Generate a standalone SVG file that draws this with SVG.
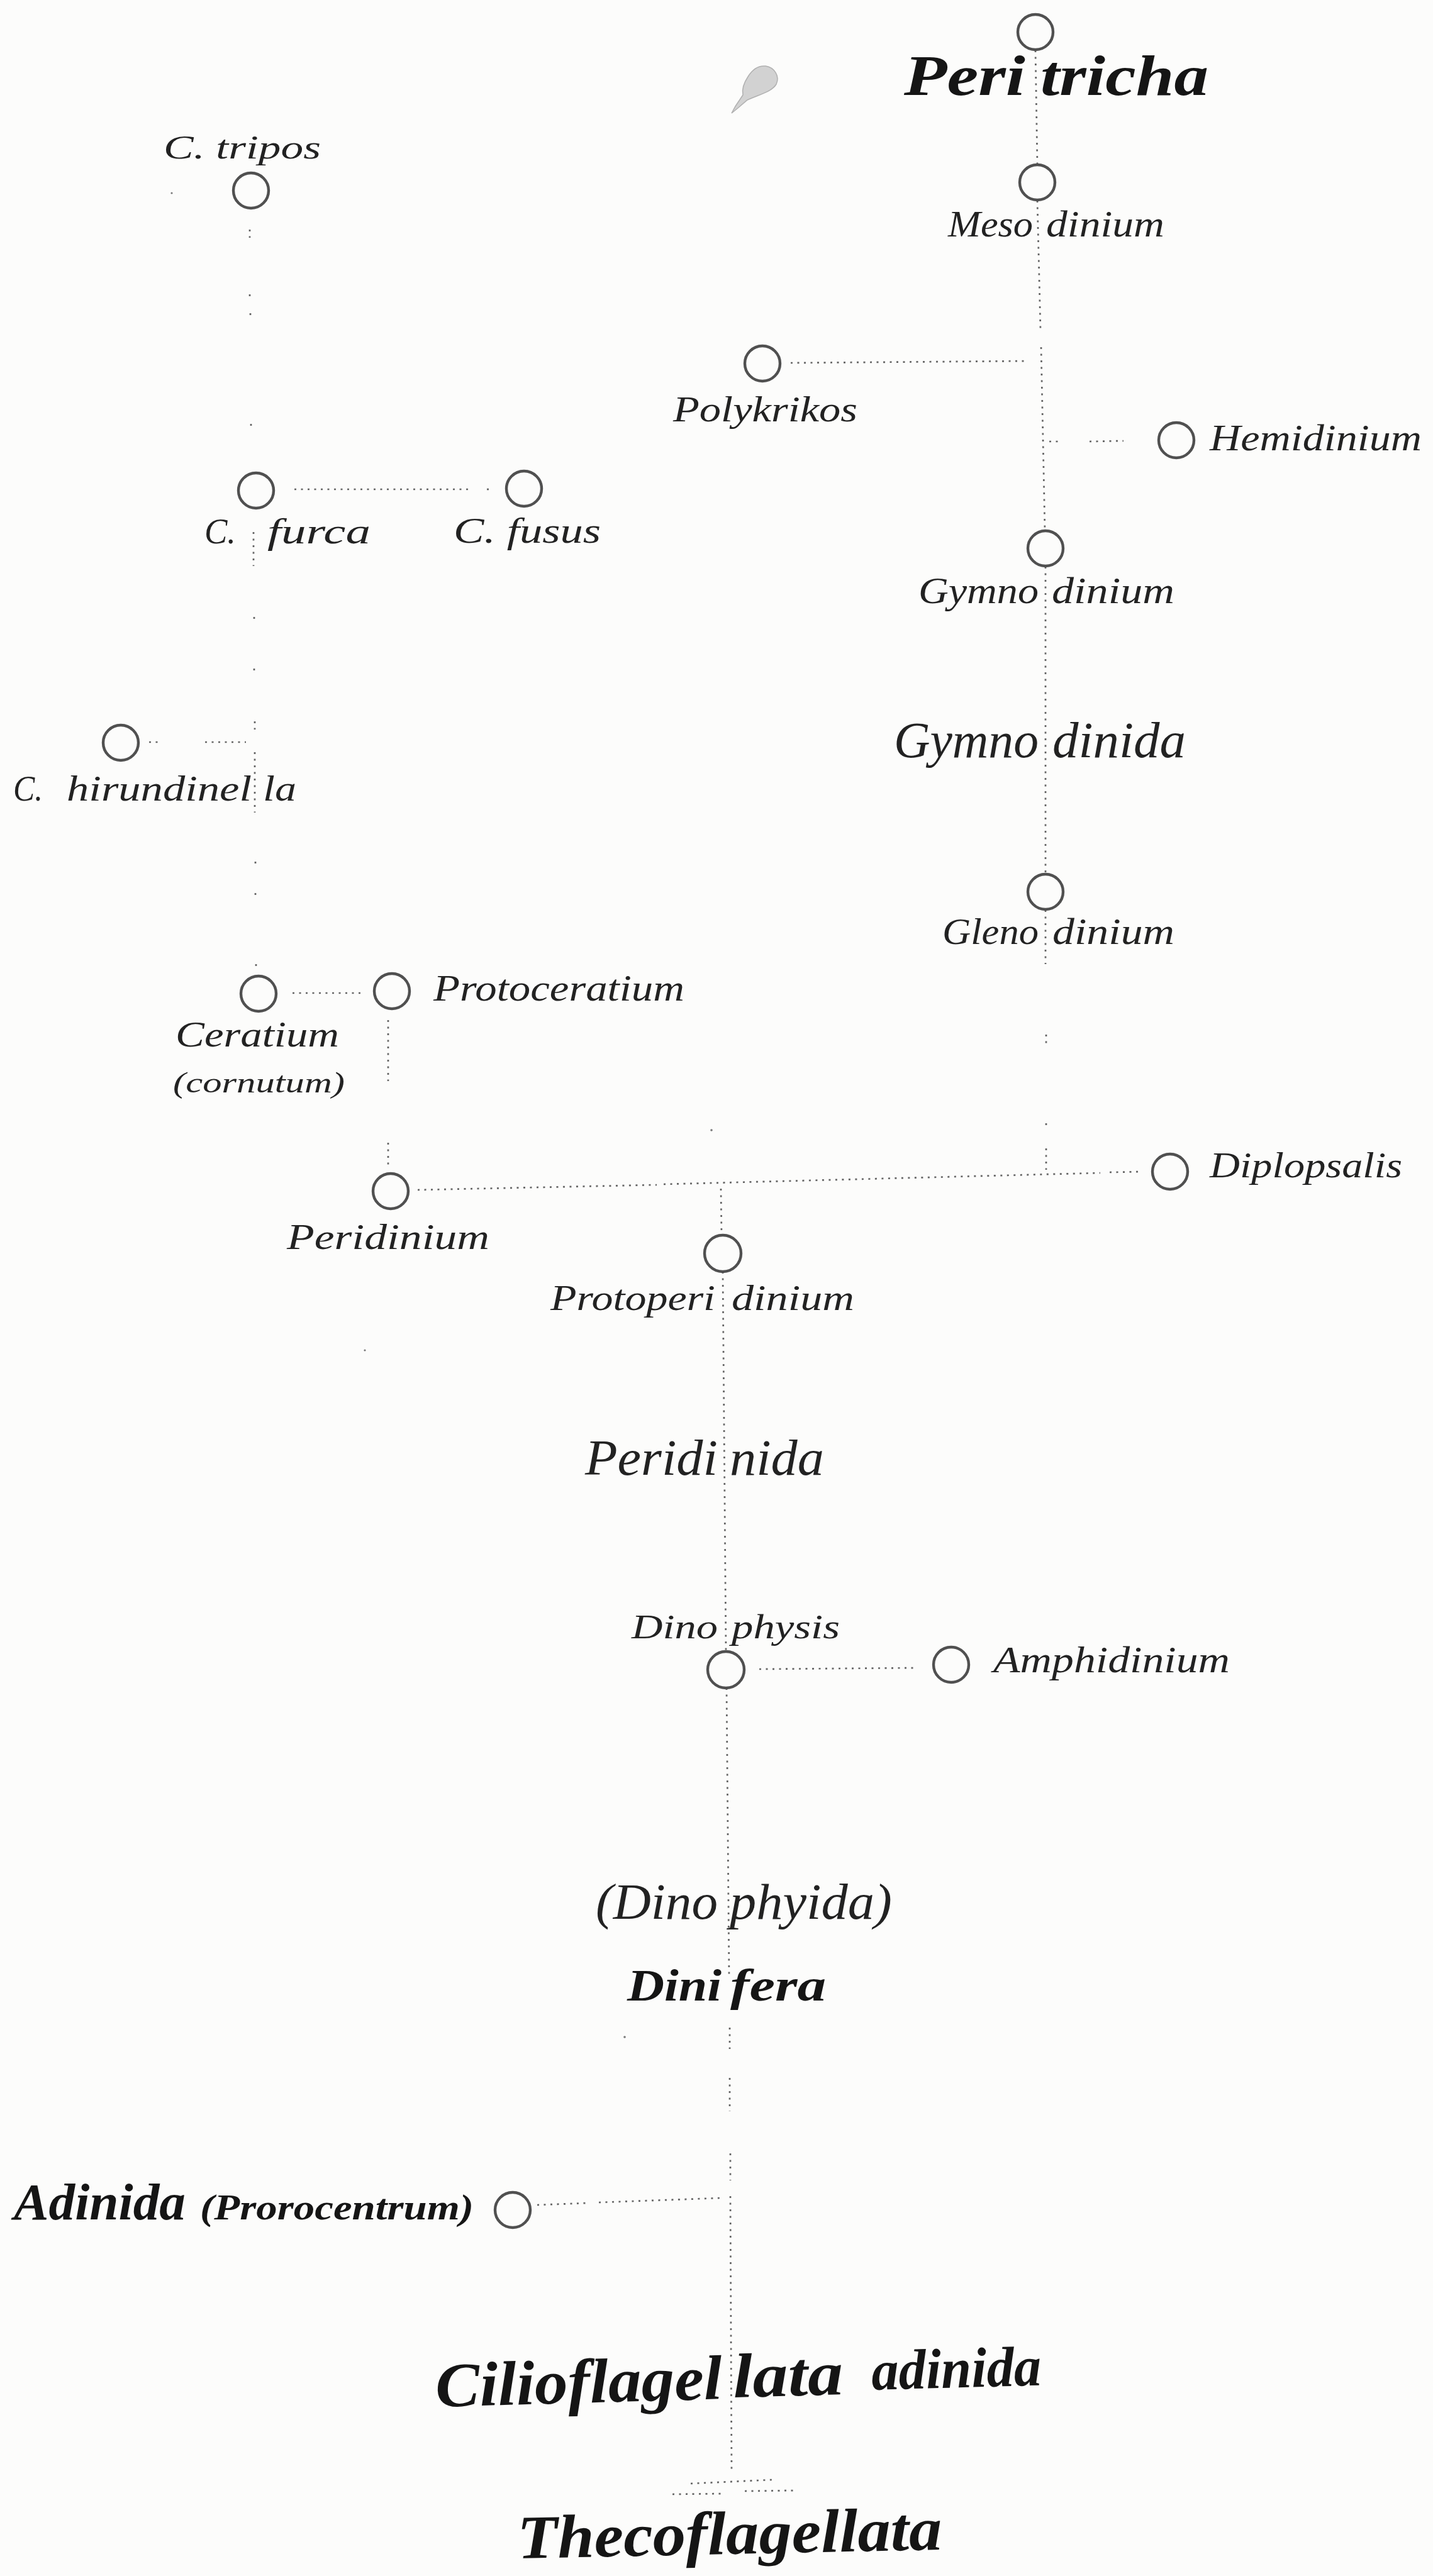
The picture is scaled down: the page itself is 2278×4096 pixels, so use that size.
<svg xmlns="http://www.w3.org/2000/svg" width="2278" height="4096" viewBox="0 0 2278 4096">
<style>
.bg{fill:#fcfcfb}
.node circle{fill:none;stroke:#505050;stroke-width:4.4}
.conn line{stroke:#666;stroke-width:2.7;stroke-dasharray:3 7.5;fill:none}
text{font-family:"Liberation Serif","Times New Roman",serif;font-style:italic;fill:#222}
.b{font-weight:bold;fill:#151515}
.speck{fill:#777}
</style>
<rect class="bg" x="0" y="0" width="2278" height="4096"/>

<g id="connectors" class="conn">
  <line x1="1646" y1="80" x2="1649" y2="262"/>
  <line x1="1649" y1="319" x2="1654" y2="524"/>
  <line x1="1655" y1="552" x2="1661" y2="844"/>
  <line x1="1257" y1="577" x2="1634" y2="574"/>
  <line x1="1668" y1="702" x2="1688" y2="702"/>
  <line x1="1732" y1="702" x2="1786" y2="701"/>
  <line x1="1662" y1="901" x2="1662" y2="1390"/>
  <line x1="1662" y1="1447" x2="1662" y2="1533"/>
  <line x1="1663" y1="1645" x2="1663" y2="1660"/>
  <line x1="1663" y1="1786" x2="1663" y2="1791"/>
  <line x1="1663" y1="1826" x2="1663" y2="1860"/>
  <line x1="664" y1="1892" x2="1044" y2="1884"/>
  <line x1="1055" y1="1883" x2="1749" y2="1865"/>
  <line x1="1764" y1="1864" x2="1816" y2="1863"/>
  <line x1="1146" y1="1890" x2="1147" y2="1962"/>
  <line x1="1149" y1="2022" x2="1154" y2="2626"/>
  <line x1="1207" y1="2654" x2="1459" y2="2652"/>
  <line x1="1155" y1="2684" x2="1159" y2="3140"/>
  <line x1="1160" y1="3224" x2="1160" y2="3258"/>
  <line x1="1160" y1="3304" x2="1160" y2="3357"/>
  <line x1="1161" y1="3424" x2="1161" y2="3467"/>
  <line x1="1161" y1="3492" x2="1163" y2="3930"/>
  <line x1="854" y1="3506" x2="933" y2="3503"/>
  <line x1="952" y1="3502" x2="1144" y2="3495"/>
  <line x1="1098" y1="3949" x2="1227" y2="3943"/>
  <line x1="1069" y1="3966" x2="1151" y2="3965"/>
  <line x1="1184" y1="3961" x2="1264" y2="3960"/>
  <line x1="397" y1="365" x2="397" y2="378"/>
  <line x1="397" y1="468" x2="397" y2="471"/>
  <line x1="398" y1="498" x2="398" y2="501"/>
  <line x1="399" y1="674" x2="399" y2="677"/>
  <line x1="468" y1="778" x2="750" y2="778"/>
  <line x1="774" y1="778" x2="777" y2="778"/>
  <line x1="403" y1="846" x2="403" y2="900"/>
  <line x1="404" y1="981" x2="404" y2="984"/>
  <line x1="404" y1="1063" x2="404" y2="1066"/>
  <line x1="405" y1="1147" x2="405" y2="1160"/>
  <line x1="405" y1="1196" x2="405" y2="1292"/>
  <line x1="406" y1="1370" x2="406" y2="1373"/>
  <line x1="406" y1="1420" x2="406" y2="1423"/>
  <line x1="407" y1="1533" x2="407" y2="1536"/>
  <line x1="237" y1="1180" x2="254" y2="1180"/>
  <line x1="326" y1="1180" x2="391" y2="1180"/>
  <line x1="465" y1="1579" x2="578" y2="1579"/>
  <line x1="617" y1="1622" x2="617" y2="1719"/>
  <line x1="617" y1="1817" x2="617" y2="1853"/>
</g>

<g id="n-peritricha" class="node">
  <circle cx="1646" cy="51" r="28"/>
  <text class="b" x="1437" y="151" font-size="90" textLength="193" lengthAdjust="spacingAndGlyphs">Peri</text>
  <text class="b" x="1654" y="151" font-size="90" textLength="267" lengthAdjust="spacingAndGlyphs">tricha</text>
</g>
<g id="n-mesodinium" class="node">
  <circle cx="1649" cy="290" r="28"/>
  <text x="1507" y="376" font-size="60" textLength="135" lengthAdjust="spacingAndGlyphs">Meso</text>
  <text x="1663" y="376" font-size="60" textLength="188" lengthAdjust="spacingAndGlyphs">dinium</text>
</g>
<g id="n-polykrikos" class="node">
  <circle cx="1212" cy="578" r="28"/>
  <text x="1070" y="670" font-size="56" textLength="293" lengthAdjust="spacingAndGlyphs">Polykrikos</text>
</g>
<g id="n-hemidinium" class="node">
  <circle cx="1870" cy="700" r="28"/>
  <text x="1923" y="716" font-size="60" textLength="337" lengthAdjust="spacingAndGlyphs">Hemidinium</text>
</g>
<g id="n-gymnodinium" class="node">
  <circle cx="1662" cy="872" r="28"/>
  <text x="1460" y="959" font-size="60" textLength="191" lengthAdjust="spacingAndGlyphs">Gymno</text>
  <text x="1672" y="959" font-size="60" textLength="195" lengthAdjust="spacingAndGlyphs">dinium</text>
</g>
<g id="g-gymnodinida">
  <text x="1421" y="1204" font-size="80" textLength="230" lengthAdjust="spacingAndGlyphs">Gymno</text>
  <text x="1673" y="1204" font-size="80" textLength="212" lengthAdjust="spacingAndGlyphs">dinida</text>
</g>
<g id="n-glenodinium" class="node">
  <circle cx="1662" cy="1418" r="28"/>
  <text x="1498" y="1501" font-size="60" textLength="153" lengthAdjust="spacingAndGlyphs">Gleno</text>
  <text x="1673" y="1501" font-size="60" textLength="194" lengthAdjust="spacingAndGlyphs">dinium</text>
</g>
<g id="n-diplopsalis" class="node">
  <circle cx="1860" cy="1863" r="28"/>
  <text x="1923" y="1872" font-size="57" textLength="306" lengthAdjust="spacingAndGlyphs">Diplopsalis</text>
</g>
<g id="n-protoperidinium" class="node">
  <circle cx="1149" cy="1993" r="29"/>
  <text x="875" y="2083" font-size="58" textLength="262" lengthAdjust="spacingAndGlyphs">Protoperi</text>
  <text x="1163" y="2083" font-size="58" textLength="195" lengthAdjust="spacingAndGlyphs">dinium</text>
</g>
<g id="g-peridinida">
  <text x="930" y="2345" font-size="80" textLength="211" lengthAdjust="spacingAndGlyphs">Peridi</text>
  <text x="1160" y="2345" font-size="80" textLength="150" lengthAdjust="spacingAndGlyphs">nida</text>
</g>
<g id="n-dinophysis" class="node">
  <circle cx="1154" cy="2655" r="29"/>
  <text x="1004" y="2605" font-size="54" textLength="137" lengthAdjust="spacingAndGlyphs">Dino</text>
  <text x="1163" y="2605" font-size="54" textLength="172" lengthAdjust="spacingAndGlyphs">physis</text>
</g>
<g id="n-amphidinium" class="node">
  <circle cx="1512" cy="2647" r="28"/>
  <text x="1579" y="2659" font-size="60" textLength="376" lengthAdjust="spacingAndGlyphs">Amphidinium</text>
</g>
<g id="g-dinophyida">
  <text x="947" y="3051" font-size="80" textLength="194" lengthAdjust="spacingAndGlyphs">(Dino</text>
  <text x="1160" y="3051" font-size="80" textLength="258" lengthAdjust="spacingAndGlyphs">phyida)</text>
</g>
<g id="g-dinifera">
  <text class="b" x="997" y="3181" font-size="72" textLength="150" lengthAdjust="spacingAndGlyphs">Dini</text>
  <text class="b" x="1161" y="3181" font-size="72" textLength="152" lengthAdjust="spacingAndGlyphs">fera</text>
</g>
<g id="n-adinida" class="node">
  <circle cx="815" cy="3514" r="28"/>
  <text class="b" x="22" y="3529" font-size="83" textLength="273" lengthAdjust="spacingAndGlyphs">Adinida</text>
  <text class="b" x="318" y="3529" font-size="58" textLength="435" lengthAdjust="spacingAndGlyphs">(Prorocentrum)</text>
</g>
<g id="g-cilioflagellata">
  <text class="b" x="693" y="3827" font-size="100" textLength="456" lengthAdjust="spacingAndGlyphs" transform="rotate(-1.6 693 3827)">Cilioflagel</text>
  <text class="b" x="1166" y="3812" font-size="100" textLength="175" lengthAdjust="spacingAndGlyphs" transform="rotate(-1.6 1166 3812)">lata</text>
  <text class="b" x="1386" y="3800" font-size="90" textLength="270" lengthAdjust="spacingAndGlyphs" transform="rotate(-1.6 1386 3800)">adinida</text>
</g>
<g id="g-thecoflagellata">
  <text class="b" x="823" y="4068" font-size="98" textLength="675" lengthAdjust="spacingAndGlyphs" transform="rotate(-1.2 823 4068)">Thecoflagellata</text>
</g>

<g id="n-ctripos" class="node">
  <circle cx="399" cy="303" r="28"/>
  <text x="260" y="252" font-size="52" textLength="250" lengthAdjust="spacingAndGlyphs">C. tripos</text>
</g>
<g id="n-cfurca" class="node">
  <circle cx="407" cy="780" r="28"/>
  <text x="325" y="864" font-size="56" textLength="50" lengthAdjust="spacingAndGlyphs">C.</text>
  <text x="425" y="864" font-size="56" textLength="164" lengthAdjust="spacingAndGlyphs">furca</text>
</g>
<g id="n-cfusus" class="node">
  <circle cx="833" cy="777" r="28"/>
  <text x="721" y="863" font-size="56" textLength="234" lengthAdjust="spacingAndGlyphs">C. fusus</text>
</g>
<g id="n-chirundinella" class="node">
  <circle cx="192" cy="1181" r="28"/>
  <text x="21" y="1273" font-size="58" textLength="47" lengthAdjust="spacingAndGlyphs">C.</text>
  <text x="106" y="1273" font-size="58" textLength="294" lengthAdjust="spacingAndGlyphs">hirundinel</text>
  <text x="418" y="1273" font-size="58" textLength="53" lengthAdjust="spacingAndGlyphs">la</text>
</g>
<g id="n-ceratium" class="node">
  <circle cx="411" cy="1580" r="28"/>
  <text x="279" y="1664" font-size="57" textLength="260" lengthAdjust="spacingAndGlyphs">Ceratium</text>
  <text x="275" y="1737" font-size="46" textLength="273" lengthAdjust="spacingAndGlyphs">(cornutum)</text>
</g>
<g id="n-protoceratium" class="node">
  <circle cx="623" cy="1576" r="28"/>
  <text x="689" y="1591" font-size="60" textLength="399" lengthAdjust="spacingAndGlyphs">Protoceratium</text>
</g>
<g id="n-peridinium" class="node">
  <circle cx="621" cy="1894" r="28"/>
  <text x="456" y="1986" font-size="57" textLength="322" lengthAdjust="spacingAndGlyphs">Peridinium</text>
</g>

<g id="marks">
  <path d="M1163,180 L1174,171 L1188,159 C1204,151 1226,147 1234,134 C1240,121 1231,107 1217,105 C1204,104 1195,112 1189,122 C1183,131 1179,141 1181,151 L1169,169 Z" fill="#d2d2d2" stroke="#b0b0b0" stroke-width="1.5"/>
  <circle class="speck" cx="273" cy="307" r="1.6"/>
  <circle class="speck" cx="1131" cy="1797" r="1.8"/>
  <circle class="speck" cx="580" cy="2147" r="1.6"/>
  <circle class="speck" cx="993" cy="3239" r="1.8"/>
</g>
</svg>
